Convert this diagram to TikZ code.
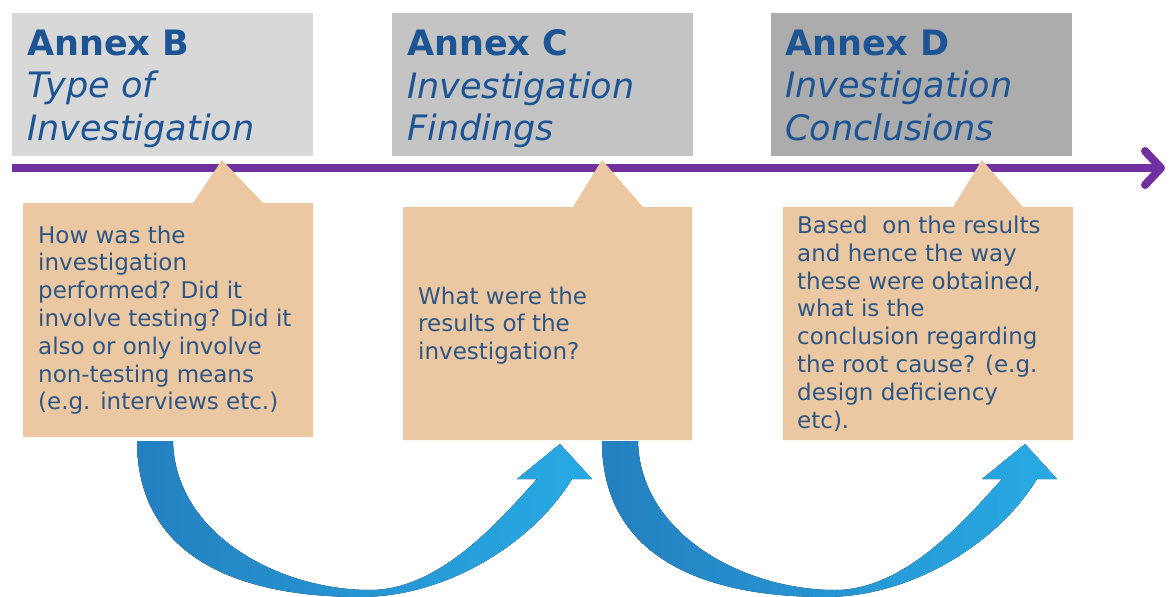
\documentclass[tikz,border=0pt]{standalone}
\usepackage{fontspec}
\setmainfont{DejaVu Sans}
\usetikzlibrary{arrows.meta}

\definecolor{annexblue}{RGB}{28,84,148}
\definecolor{noteblue}{RGB}{44,86,134}
\definecolor{notetan}{RGB}{236,200,162}
\definecolor{lineviolet}{RGB}{112,48,160}
\definecolor{ribbondark}{RGB}{36,128,192}
\definecolor{ribbonlight}{RGB}{40,170,228}
\definecolor{grayB}{RGB}{216,216,216}
\definecolor{grayC}{RGB}{196,196,196}
\definecolor{grayD}{RGB}{172,172,172}

\tikzset{
  annexbox/.style={anchor=north west, inner sep=0pt, minimum width=301pt, minimum height=143pt},
  annextitle/.style={anchor=north west, inner sep=0pt, align=left, text=annexblue, font=\fontsize{35}{42.5}\selectfont},
  notebox/.style={fill=notetan},
  notetext/.style={anchor=north west, inner sep=0pt, align=left, text=noteblue, font=\fontsize{23}{27.8}\selectfont},
  ribbon/.style={left color=ribbondark, right color=ribbonlight},
  timeline/.style={lineviolet, line width=8pt, -{Straight Barb[length=16pt, width=34pt, round]}}
}

\begin{document}
\begin{tikzpicture}[x=1pt, y=-1pt]
    \useasboundingbox[fill=white] (0,0) rectangle (1170,597);

    \foreach \dx in {0, 465}
        \fill[ribbon, xshift=\dx] (137,441) .. controls (137,555) and (235,597) .. (360,597)
            .. controls (450,597) and (535,540) .. (572,479) -- (592,479) -- (560,444) -- (517,479) -- (537,479)
            .. controls (500,520) and (440,590) .. (370,590)
            .. controls (280,590) and (175,535) .. (173,441) -- cycle;

    \node[annexbox, fill=grayB] (boxB) at (12,13) {};
    \node[annexbox, fill=grayC] (boxC) at (392,13) {};
    \node[annexbox, fill=grayD] (boxD) at (771,13) {};

    \coordinate (tlStart) at (12,168);
    \coordinate (tlEnd) at (1165,168);
    \draw[timeline] (tlStart) -- (tlEnd);

    \fill[notebox] (23,203) -- (193,203) -- (222,160) -- (263,203) -- (313,203) -- (313,437) -- (23,437) -- cycle;
    \fill[notebox] (403,207) -- (573,207) -- (602,160) -- (643,207) -- (692,207) -- (692,440) -- (403,440) -- cycle;
    \fill[notebox] (783,207) -- (953,207) -- (982,160) -- (1023,207) -- (1073,207) -- (1073,440) -- (783,440) -- cycle;

    \node[annextitle] (titleB) at (27,29.5) {\textbf{Annex B}\\\textit{Type of}\\\textit{Investigation}};
    \node[annextitle] (titleC) at (407,29.5) {\textbf{Annex C}\\\textit{Investigation}\\\textit{Findings}};
    \node[annextitle] (titleD) at (785,29.5) {\textbf{Annex D}\\\textit{Investigation}\\\textit{Conclusions}};

    \node[notetext] (noteB) at (38,225.5) {How was the\\investigation\\performed? Did it\\involve testing? Did it\\also or only involve\\non-testing means\\(e.g. interviews etc.)};
    \node[notetext] (noteC) at (418,286.5) {What were the\\results of the\\investigation?};
    \node[notetext] (noteD) at (797,215.8) {Based~ on the results\\and hence the way\\these were obtained,\\what is the\\conclusion regarding\\the root cause? (e.g.\\design deficiency\\etc).};
\end{tikzpicture}
\end{document}
